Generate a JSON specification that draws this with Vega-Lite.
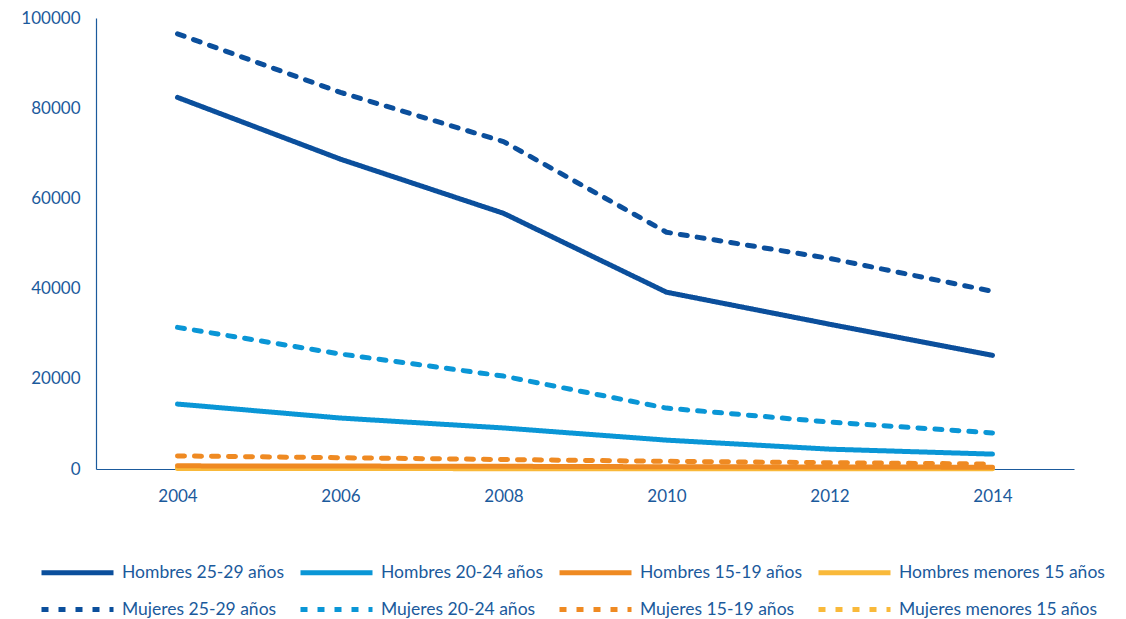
{
  "$schema": "https://vega.github.io/schema/vega-lite/v6.json",
  "width": 978,
  "height": 451,
  "padding": {"left": 20, "top": 9, "right": 5, "bottom": 5},
  "background": "white",
  "config": {
    "view": {"stroke": null},
    "font": "Lato",
    "legend": {
      "gridAlign": "each", "rowPadding": 12, "columnPadding": 5,
      "symbolType": "M-3,0H3", "symbolSize": 576, "symbolStrokeWidth": 5,
      "labelFontSize": 17.5, "labelColor": "#1b5a9c", "labelOffset": 30, "labelFont": "Lato",
      "labelLimit": 300
    }
  },
  "data": {"values": [
    {"anio": 2004, "serie": "Hombres menores 15 años", "valor": 100},
    {"anio": 2006, "serie": "Hombres menores 15 años", "valor": 90},
    {"anio": 2008, "serie": "Hombres menores 15 años", "valor": 80},
    {"anio": 2010, "serie": "Hombres menores 15 años", "valor": 70},
    {"anio": 2012, "serie": "Hombres menores 15 años", "valor": 60},
    {"anio": 2014, "serie": "Hombres menores 15 años", "valor": 50},
    {"anio": 2004, "serie": "Mujeres menores 15 años", "valor": 300},
    {"anio": 2006, "serie": "Mujeres menores 15 años", "valor": 280},
    {"anio": 2008, "serie": "Mujeres menores 15 años", "valor": 250},
    {"anio": 2010, "serie": "Mujeres menores 15 años", "valor": 220},
    {"anio": 2012, "serie": "Mujeres menores 15 años", "valor": 200},
    {"anio": 2014, "serie": "Mujeres menores 15 años", "valor": 180},
    {"anio": 2004, "serie": "Hombres 15-19 años", "valor": 700},
    {"anio": 2006, "serie": "Hombres 15-19 años", "valor": 650},
    {"anio": 2008, "serie": "Hombres 15-19 años", "valor": 600},
    {"anio": 2010, "serie": "Hombres 15-19 años", "valor": 500},
    {"anio": 2012, "serie": "Hombres 15-19 años", "valor": 450},
    {"anio": 2014, "serie": "Hombres 15-19 años", "valor": 400},
    {"anio": 2004, "serie": "Mujeres 15-19 años", "valor": 2900},
    {"anio": 2006, "serie": "Mujeres 15-19 años", "valor": 2500},
    {"anio": 2008, "serie": "Mujeres 15-19 años", "valor": 2100},
    {"anio": 2010, "serie": "Mujeres 15-19 años", "valor": 1700},
    {"anio": 2012, "serie": "Mujeres 15-19 años", "valor": 1400},
    {"anio": 2014, "serie": "Mujeres 15-19 años", "valor": 1100},
    {"anio": 2004, "serie": "Hombres 20-24 años", "valor": 14400},
    {"anio": 2006, "serie": "Hombres 20-24 años", "valor": 11300},
    {"anio": 2008, "serie": "Hombres 20-24 años", "valor": 9100},
    {"anio": 2010, "serie": "Hombres 20-24 años", "valor": 6400},
    {"anio": 2012, "serie": "Hombres 20-24 años", "valor": 4400},
    {"anio": 2014, "serie": "Hombres 20-24 años", "valor": 3300},
    {"anio": 2004, "serie": "Mujeres 20-24 años", "valor": 31400},
    {"anio": 2006, "serie": "Mujeres 20-24 años", "valor": 25500},
    {"anio": 2008, "serie": "Mujeres 20-24 años", "valor": 20600},
    {"anio": 2010, "serie": "Mujeres 20-24 años", "valor": 13500},
    {"anio": 2012, "serie": "Mujeres 20-24 años", "valor": 10400},
    {"anio": 2014, "serie": "Mujeres 20-24 años", "valor": 8000},
    {"anio": 2004, "serie": "Hombres 25-29 años", "valor": 82400},
    {"anio": 2006, "serie": "Hombres 25-29 años", "valor": 68700},
    {"anio": 2008, "serie": "Hombres 25-29 años", "valor": 56700},
    {"anio": 2010, "serie": "Hombres 25-29 años", "valor": 39200},
    {"anio": 2012, "serie": "Hombres 25-29 años", "valor": 32100},
    {"anio": 2014, "serie": "Hombres 25-29 años", "valor": 25200},
    {"anio": 2004, "serie": "Mujeres 25-29 años", "valor": 96500},
    {"anio": 2006, "serie": "Mujeres 25-29 años", "valor": 83500},
    {"anio": 2008, "serie": "Mujeres 25-29 años", "valor": 72600},
    {"anio": 2010, "serie": "Mujeres 25-29 años", "valor": 52500},
    {"anio": 2012, "serie": "Mujeres 25-29 años", "valor": 46700},
    {"anio": 2014, "serie": "Mujeres 25-29 años", "valor": 39400}
  ]},
  "mark": {"type": "line", "strokeWidth": 5, "strokeCap": "round", "strokeJoin": "round"},
  "encoding": {
    "x": {
      "field": "anio", "type": "quantitative",
      "scale": {"domain": [2003, 2015], "nice": false, "zero": false},
      "axis": {
        "title": null, "values": [2004, 2006, 2008, 2010, 2012, 2014], "format": "d",
        "grid": false, "ticks": false, "domainColor": "#1b5a9c", "domainWidth": 1.2,
        "labelColor": "#1b5a9c", "labelFontSize": 17, "labelPadding": 19, "labelFont": "Lato"
      }
    },
    "y": {
      "field": "valor", "type": "quantitative",
      "scale": {"domain": [0, 100000], "nice": false},
      "axis": {
        "title": null, "values": [0, 20000, 40000, 60000, 80000, 100000], "format": "d",
        "grid": false, "ticks": false, "domainColor": "#1b5a9c", "domainWidth": 1.2,
        "labelColor": "#1b5a9c", "labelFontSize": 17, "labelPadding": 16, "labelFont": "Lato"
      }
    },
    "color": {
      "field": "serie", "type": "nominal",
      "scale": {
        "domain": ["Hombres 25-29 años", "Hombres 20-24 años", "Hombres 15-19 años", "Hombres menores 15 años", "Mujeres 25-29 años", "Mujeres 20-24 años", "Mujeres 15-19 años", "Mujeres menores 15 años"],
        "range": ["#0b4f9c", "#0a96d6", "#ef8a22", "#f9b93a", "#0b4f9c", "#0a96d6", "#ef8a22", "#f9b93a"]
      },
      "legend": {
        "title": null, "orient": "none", "legendX": -33, "legendY": 540,
        "direction": "horizontal", "columns": 4
      }
    },
    "strokeDash": {
      "field": "serie", "type": "nominal",
      "scale": {
        "domain": ["Hombres 25-29 años", "Hombres 20-24 años", "Hombres 15-19 años", "Hombres menores 15 años", "Mujeres 25-29 años", "Mujeres 20-24 años", "Mujeres 15-19 años", "Mujeres menores 15 años"],
        "range": [[1, 0], [1, 0], [1, 0], [1, 0], [7, 10], [7, 10], [7, 10], [7, 10]]
      },
      "legend": {
        "title": null, "orient": "none", "legendX": -33, "legendY": 540,
        "direction": "horizontal", "columns": 4
      }
    }
  }
}
